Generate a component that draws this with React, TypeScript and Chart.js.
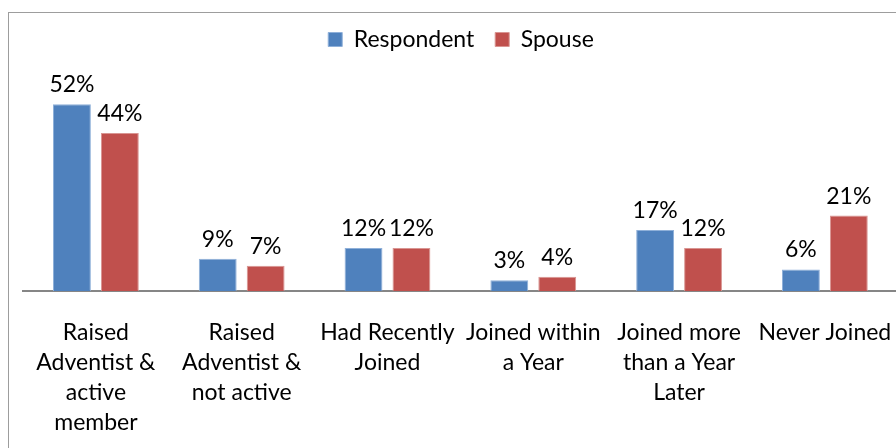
import { useEffect, useRef } from "react";
import { Chart, registerables } from "chart.js";

Chart.register(...registerables);

const categories: string[][] = [
  ["Raised", "Adventist &", "active", "member"],
  ["Raised", "Adventist &", "not active"],
  ["Had Recently", "Joined"],
  ["Joined within", "a Year"],
  ["Joined more", "than a Year", "Later"],
  ["Never Joined"],
];
const respondentValues = [52, 9, 12, 3, 17, 6];
const spouseValues = [44, 7, 12, 4, 12, 21];
const seriesNames = ["Respondent", "Spouse"];

const FONT = "Lato, 'Noto Sans', sans-serif";

const dataLabels = {
  id: "dataLabels",
  afterDatasetsDraw(chart: any) {
    const ctx = chart.ctx;
    ctx.save();
    ctx.font = `23px ${FONT}`;
    ctx.fillStyle = "#000";
    ctx.textAlign = "center";
    ctx.textBaseline = "alphabetic";
    chart.data.datasets.forEach((ds: any, i: number) => {
      const meta = chart.getDatasetMeta(i);
      meta.data.forEach((el: any, j: number) => {
        ctx.fillText(`${ds.data[j]}%`, el.x, el.y - 12);
      });
    });
    ctx.restore();
  },
};

export default function App() {
  const ref = useRef<HTMLCanvasElement>(null);
  useEffect(() => {
    if (!ref.current) return;
    const chart = new Chart(ref.current, {
      type: "bar",
      data: {
        labels: categories,
        datasets: [
          {
            label: seriesNames[0],
            data: respondentValues,
            backgroundColor: "#4F81BD",
            borderColor: "#8fb0d9",
            borderWidth: 1,
            categoryPercentage: 0.6575,
            barPercentage: 0.79,
          },
          {
            label: seriesNames[1],
            data: spouseValues,
            backgroundColor: "#C0504D",
            borderColor: "#d99592",
            borderWidth: 1,
            categoryPercentage: 0.6575,
            barPercentage: 0.79,
          },
        ],
      },
      options: {
        animation: false,
        responsive: false,
        layout: { padding: { left: 23, right: 21, top: 7, bottom: 0 } },
        plugins: {
          legend: {
            position: "top",
            labels: {
              font: { family: FONT, size: 23 },
              color: "#000",
              boxWidth: 14,
              boxHeight: 14,
              padding: 21,
            },
          },
          tooltip: { enabled: false },
        },
        scales: {
          x: {
            grid: { display: false, drawTicks: false },
            border: { display: true, color: "#868686", width: 2 },
            ticks: {
              font: { family: FONT, size: 23, lineHeight: 30 / 23 },
              color: "#000",
              padding: 27,
              maxRotation: 0,
              autoSkip: false,
            },
            afterFit: (scale: any) => {
              scale.height = 448 - 291;
            },
          },
          y: {
            display: false,
            min: 0,
            max: 64,
          },
        },
      },
      plugins: [dataLabels],
    });
    return () => chart.destroy();
  }, []);
  return (
    <div
      style={{
        position: "fixed",
        left: 0,
        top: 0,
        width: 896,
        height: 448,
        overflow: "hidden",
        background: "#fff",
      }}
    >
      <div
        style={{
          position: "absolute",
          left: 7.5,
          top: 11.5,
          width: 1000,
          height: 1000,
          border: "1.5px solid #9d9d9d",
        }}
      />
      <canvas
        ref={ref}
        width={920}
        height={448}
        style={{ position: "absolute", left: 0, top: 0, width: 920, height: 448 }}
      />
    </div>
  );
}
